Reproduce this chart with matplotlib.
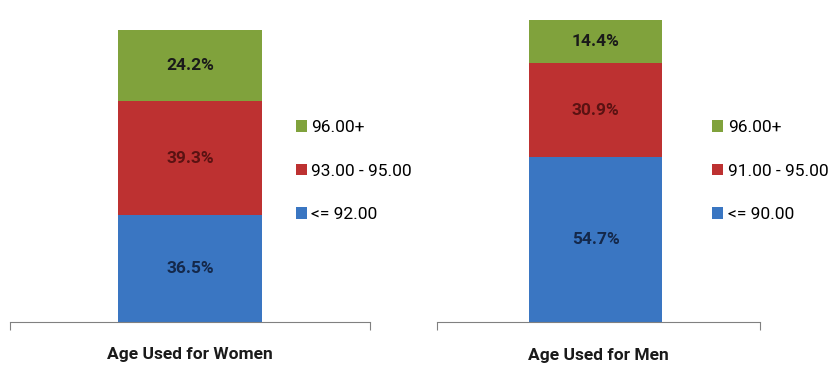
import matplotlib.pyplot as plt
from matplotlib.patches import Patch

# data
women_labels = ["<= 92.00", "93.00 - 95.00", "96.00+"]
women_vals = [36.5, 39.3, 24.2]
men_labels = ["<= 90.00", "91.00 - 95.00", "96.00+"]
men_vals = [54.7, 30.9, 14.4]
titles = ["Age Used for Women", "Age Used for Men"]

colors = ["#3a76c2", "#bd3131", "#80a23c"]
text_colors = ["#14284a", "#5a1212", "#1a1a1a"]

plt.rcParams['font.family'] = ['Roboto', 'DejaVu Sans']

fig = plt.figure(figsize=(8.31, 3.67), dpi=100)
ax1 = fig.add_axes([0.012, 0.1226, 0.433, 0.7956])
ax2 = fig.add_axes([0.526, 0.1226, 0.389, 0.823])


def draw(ax, vals, title, xc, w):
	bottom = 0
	for v, c, tc in zip(vals, colors, text_colors):
		ax.bar(xc, v, width=w, bottom=bottom, color=c, edgecolor='none')
		ax.text(xc, bottom + v / 2, "%.1f%%" % v, ha='center', va='center',
				fontsize=12.5, fontweight='bold', color=tc)
		bottom += v
	ax.set_ylim(0, 100)
	ax.set_xlim(-0.5, 0.5)
	for s in ['top', 'left', 'right']:
		ax.spines[s].set_visible(False)
	ax.spines['bottom'].set_color('#808080')
	ax.set_yticks([])
	ax.set_xticks([-0.5, 0.5])
	ax.set_xticklabels([])
	ax.tick_params(axis='x', direction='out', length=6, color='#808080')
	ax.text(0.5, -0.11, title, transform=ax.transAxes, ha='center', va='center',
			fontsize=12.5, fontweight='bold', color='#1a1a1a')


draw(ax1, women_vals, titles[0], 0.0, 0.4)
draw(ax2, men_vals, titles[1], -0.01, 0.41)


def legend(labels, x):
	handles = [Patch(facecolor=c, edgecolor='none') for c in colors][::-1]
	fig.legend(handles, labels[::-1], loc='center left', bbox_to_anchor=(x, 0.534),
			   frameon=False, fontsize=12.5, labelspacing=1.65, handlelength=0.65,
			   handleheight=0.65, handletextpad=0.25, borderpad=0, borderaxespad=0)


legend(women_labels, 0.356)
legend(men_labels, 0.857)

fig.savefig("out.png", dpi=100)
